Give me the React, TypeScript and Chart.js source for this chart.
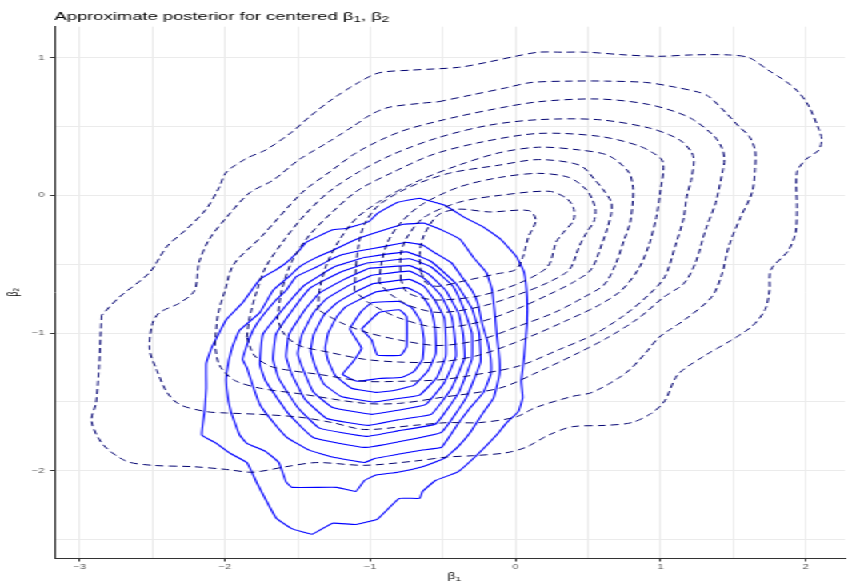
import React, { useEffect, useRef } from "react";
import { Chart, registerables } from "chart.js";

Chart.register(...registerables);

type Pt = [number, number];

// Panel limits (β1 across, β2 up) and gridline positions
const xLimits: Pt = [-3.175, 2.27];
const yLimits: Pt = [-2.633, 1.225];
const xGridValues = [-3, -2.5, -2, -1.5, -1, -0.5, 0, 0.5, 1, 1.5, 2];
const yGridValues = [-2.5, -2, -1.5, -1, -0.5, 0, 0.5, 1];
const xTickValues = [-3, -2, -1, 0, 1, 2];
const xTickLabels = ["−3", "−2", "−1", "0", "1", "2"];
const yTickValues = [-2, -1, 0, 1];
const yTickLabels = ["−2", "−1", "0", "1"];

// Dashed density contours (outermost first)
const dashedLevel1: Pt[] = [
  [-2.85, -0.87], [-2.87, -1.27], [-2.89, -1.51], [-2.92, -1.64], [-2.84, -1.81], [-2.68, -1.93],
  [-2.5, -1.96], [-2.22, -1.97], [-1.99, -1.99], [-1.81, -2.01], [-1.58, -1.97], [-1.37, -1.94],
  [-1.04, -1.96], [-0.7, -1.93], [-0.47, -1.9], [-0.29, -1.89], [-0.07, -1.87], [0.07, -1.83],
  [0.23, -1.74], [0.39, -1.68], [0.62, -1.67], [0.8, -1.65], [0.94, -1.58], [1.03, -1.49],
  [1.12, -1.3], [1.31, -1.16], [1.49, -1.05], [1.63, -0.95], [1.72, -0.83], [1.75, -0.69],
  [1.76, -0.54], [1.88, -0.4], [1.93, -0.27], [1.94, -0.1], [1.94, 0.17], [2.0, 0.26],
  [2.09, 0.33], [2.11, 0.41], [2.09, 0.48], [2.02, 0.65], [1.95, 0.75], [1.86, 0.83],
  [1.74, 0.91], [1.61, 1.0], [1.47, 1.02], [1.21, 1.02], [0.99, 1.01], [0.76, 1.02],
  [0.49, 1.04], [0.32, 1.04], [0.16, 1.04], [0.0, 1.01], [-0.18, 0.97], [-0.39, 0.93],
  [-0.71, 0.91], [-0.94, 0.89], [-1.08, 0.82], [-1.26, 0.7], [-1.42, 0.57], [-1.54, 0.46],
  [-1.72, 0.33], [-1.85, 0.27], [-1.99, 0.17], [-2.04, 0.06], [-2.13, -0.1], [-2.27, -0.25],
  [-2.4, -0.37], [-2.52, -0.56], [-2.73, -0.74],
];
const dashedLevel2: Pt[] = [
  [-0.53, 0.68], [-0.3, 0.73], [-0.07, 0.78], [0.11, 0.82], [0.39, 0.83], [0.62, 0.83],
  [0.9, 0.82], [1.08, 0.79], [1.26, 0.75], [1.33, 0.72], [1.45, 0.6], [1.54, 0.5],
  [1.61, 0.43], [1.65, 0.33], [1.65, 0.19], [1.63, 0.02], [1.55, -0.16], [1.47, -0.37],
  [1.42, -0.58], [1.35, -0.74], [1.17, -0.9], [0.99, -1.03], [0.9, -1.14], [0.76, -1.29],
  [0.53, -1.43], [0.39, -1.46], [0.14, -1.54], [0.0, -1.61], [-0.25, -1.65], [-0.47, -1.65],
  [-0.7, -1.67], [-1.04, -1.7], [-1.26, -1.65], [-1.49, -1.61], [-1.76, -1.59], [-1.99, -1.58],
  [-2.13, -1.57], [-2.31, -1.52], [-2.4, -1.43], [-2.47, -1.27], [-2.52, -1.12], [-2.5, -0.93],
  [-2.45, -0.85], [-2.31, -0.78], [-2.21, -0.69], [-2.18, -0.49], [-2.11, -0.32], [-1.99, -0.16],
  [-1.83, 0.02], [-1.67, 0.11], [-1.49, 0.26], [-1.3, 0.38], [-1.12, 0.5], [-0.99, 0.59],
  [-0.87, 0.64], [-0.64, 0.67],
];
const dashedLevel3: Pt[] = [
  [-2.07, -1.09], [-2.05, -0.87], [-2.0, -0.69], [-1.94, -0.5], [-1.75, -0.3], [-1.47, 0.02],
  [-1.28, 0.17], [-1.08, 0.32], [-0.8, 0.46], [-0.53, 0.54], [-0.18, 0.62], [0.16, 0.68],
  [0.57, 0.7], [0.92, 0.66], [1.19, 0.57], [1.36, 0.44], [1.42, 0.35], [1.44, 0.26],
  [1.43, 0.19], [1.38, -0.05], [1.31, -0.25], [1.24, -0.49], [1.16, -0.64], [1.02, -0.74],
  [0.85, -0.89], [0.64, -1.03], [0.44, -1.14], [0.16, -1.28], [-0.11, -1.4], [-0.53, -1.47],
  [-0.8, -1.51], [-1.04, -1.51], [-1.49, -1.44], [-1.76, -1.4], [-1.94, -1.34], [-2.04, -1.23],
];
const dashedLevel4: Pt[] = [
  [-1.85, -1.03], [-1.83, -0.88], [-1.78, -0.69], [-1.72, -0.52], [-1.59, -0.32], [-1.45, -0.14],
  [-1.28, 0.03], [-1.08, 0.17], [-0.84, 0.3], [-0.53, 0.42], [-0.18, 0.51], [0.16, 0.55],
  [0.57, 0.55], [0.92, 0.49], [1.12, 0.41], [1.21, 0.32], [1.23, 0.25], [1.21, 0.11],
  [1.18, -0.01], [1.16, -0.16], [1.1, -0.37], [1.03, -0.59], [0.92, -0.72], [0.75, -0.87],
  [0.54, -1.01], [0.3, -1.12], [0.02, -1.24], [-0.32, -1.31], [-0.53, -1.34], [-0.8, -1.35],
  [-1.04, -1.35], [-1.35, -1.3], [-1.56, -1.27], [-1.69, -1.24], [-1.8, -1.16],
];
const dashedLevel5: Pt[] = [
  [-1.64, -0.9], [-1.61, -0.69], [-1.54, -0.48], [-1.42, -0.29], [-1.26, -0.12], [-1.08, 0.04],
  [-0.84, 0.17], [-0.56, 0.3], [-0.22, 0.39], [0.16, 0.45], [0.57, 0.43], [0.85, 0.36],
  [1.0, 0.27], [1.02, 0.2], [1.0, 0.04], [0.97, -0.16], [0.92, -0.36], [0.85, -0.53],
  [0.73, -0.69], [0.57, -0.8], [0.37, -0.9], [0.09, -1.03], [-0.25, -1.16], [-0.53, -1.21],
  [-0.8, -1.21], [-1.04, -1.19], [-1.28, -1.14], [-1.49, -1.09], [-1.59, -1.01],
];
const dashedLevel6: Pt[] = [
  [-1.36, -0.83], [-1.35, -0.69], [-1.3, -0.5], [-1.21, -0.32], [-1.09, -0.16], [-0.9, -0.02],
  [-0.66, 0.11], [-0.39, 0.22], [-0.11, 0.31], [0.16, 0.35], [0.44, 0.33], [0.64, 0.29],
  [0.78, 0.17], [0.81, 0.06], [0.81, -0.03], [0.79, -0.2], [0.75, -0.32], [0.69, -0.5],
  [0.61, -0.65], [0.47, -0.74], [0.27, -0.85], [0.02, -0.95], [-0.25, -1.05], [-0.53, -1.09],
  [-0.8, -1.05], [-1.04, -0.99], [-1.21, -0.92],
];
const dashedLevel7: Pt[] = [
  [-1.11, -0.69], [-1.1, -0.54], [-1.08, -0.36], [-1.04, -0.21], [-0.94, -0.07], [-0.73, 0.06],
  [-0.46, 0.16], [-0.11, 0.22], [0.16, 0.26], [0.44, 0.22], [0.55, 0.11], [0.62, 0.02],
  [0.66, -0.05], [0.66, -0.13], [0.63, -0.25], [0.6, -0.34], [0.52, -0.54], [0.4, -0.63],
  [0.23, -0.72], [0.02, -0.82], [-0.25, -0.92], [-0.53, -0.96], [-0.8, -0.89], [-1.01, -0.78],
];
const dashedLevel8: Pt[] = [
  [-0.94, -0.63], [-0.92, -0.48], [-0.88, -0.34], [-0.8, -0.21], [-0.65, -0.07], [-0.39, 0.06],
  [-0.11, 0.13], [0.16, 0.16], [0.37, 0.13], [0.49, 0.04], [0.53, -0.03], [0.55, -0.1],
  [0.54, -0.19], [0.49, -0.27], [0.44, -0.37], [0.37, -0.54], [0.23, -0.63], [0.02, -0.72],
  [-0.25, -0.81], [-0.53, -0.85], [-0.73, -0.8], [-0.87, -0.71],
];
const dashedLevel9: Pt[] = [
  [-0.79, -0.61], [-0.79, -0.43], [-0.75, -0.31], [-0.63, -0.16], [-0.39, -0.05], [-0.11, 0.0],
  [0.23, 0.03], [0.35, -0.02], [0.4, -0.09], [0.4, -0.18], [0.33, -0.27], [0.28, -0.34],
  [0.22, -0.52], [0.02, -0.64], [-0.25, -0.73], [-0.53, -0.76], [-0.66, -0.74], [-0.75, -0.7],
];
const dashedLevel10: Pt[] = [
  [-0.65, -0.56], [-0.66, -0.43], [-0.63, -0.29], [-0.53, -0.14], [-0.39, -0.1], [-0.18, -0.12],
  [0.09, -0.11], [0.14, -0.18], [0.09, -0.3], [0.05, -0.45], [0.0, -0.54], [-0.13, -0.57],
  [-0.35, -0.62], [-0.53, -0.66], [-0.61, -0.64],
];

// Solid density contours (outermost first)
const solidLevel1: Pt[] = [
  [-0.66, -0.02], [-0.49, -0.07], [-0.35, -0.16], [-0.22, -0.23], [-0.1, -0.32], [0.01, -0.45],
  [0.06, -0.56], [0.08, -0.74], [0.08, -0.93], [0.06, -1.17], [0.04, -1.35], [0.05, -1.47],
  [0.02, -1.57], [-0.06, -1.65], [-0.13, -1.74], [-0.27, -1.89], [-0.4, -2.01], [-0.55, -2.07],
  [-0.64, -2.15], [-0.66, -2.2], [-0.8, -2.2], [-0.95, -2.35], [-1.1, -2.39], [-1.26, -2.38],
  [-1.4, -2.46], [-1.54, -2.42], [-1.65, -2.34], [-1.78, -2.09], [-1.85, -1.94], [-1.97, -1.87],
  [-2.06, -1.8], [-2.16, -1.74], [-2.14, -1.56], [-2.13, -1.4], [-2.13, -1.22], [-2.09, -1.1],
  [-1.99, -0.9], [-1.88, -0.78], [-1.76, -0.61], [-1.65, -0.54], [-1.58, -0.49], [-1.49, -0.4],
  [-1.44, -0.34], [-1.26, -0.25], [-1.17, -0.24], [-1.01, -0.19], [-0.95, -0.13], [-0.81, -0.05],
];
const solidLevel2: Pt[] = [
  [-0.63, -0.2], [-0.51, -0.25], [-0.38, -0.32], [-0.29, -0.45], [-0.2, -0.56], [-0.16, -0.69],
  [-0.14, -0.88], [-0.13, -1.0], [-0.11, -1.19], [-0.11, -1.3], [-0.15, -1.47], [-0.23, -1.59],
  [-0.31, -1.72], [-0.4, -1.83], [-0.49, -1.91], [-0.64, -1.97], [-0.81, -2.01], [-0.96, -2.03],
  [-1.04, -2.07], [-1.1, -2.15], [-1.23, -2.12], [-1.54, -2.12], [-1.58, -2.08], [-1.63, -1.94],
  [-1.72, -1.86], [-1.85, -1.8], [-1.9, -1.74], [-1.96, -1.57], [-1.99, -1.4], [-1.99, -1.29],
  [-1.95, -1.1], [-1.9, -0.98], [-1.76, -0.85], [-1.67, -0.69], [-1.56, -0.59], [-1.49, -0.52],
  [-1.37, -0.45], [-1.26, -0.4], [-1.1, -0.32], [-0.9, -0.25], [-0.77, -0.21],
];
const solidLevel3: Pt[] = [
  [-0.75, -0.34], [-0.64, -0.36], [-0.55, -0.42], [-0.44, -0.49], [-0.37, -0.59], [-0.3, -0.69],
  [-0.26, -0.78], [-0.23, -0.93], [-0.19, -1.07], [-0.17, -1.19], [-0.17, -1.3], [-0.22, -1.43],
  [-0.31, -1.54], [-0.39, -1.65], [-0.51, -1.83], [-0.65, -1.85], [-0.81, -1.88], [-0.97, -1.91],
  [-1.04, -1.94], [-1.26, -1.9], [-1.42, -1.85], [-1.57, -1.76], [-1.65, -1.67], [-1.76, -1.52],
  [-1.81, -1.38], [-1.85, -1.25], [-1.88, -1.19], [-1.83, -1.03], [-1.78, -0.93], [-1.65, -0.76],
  [-1.58, -0.69], [-1.51, -0.59], [-1.37, -0.52], [-1.28, -0.47], [-1.19, -0.43], [-1.06, -0.4],
  [-0.9, -0.37],
];
const solidLevel4: Pt[] = [
  [-1.04, -0.45], [-0.75, -0.41], [-0.58, -0.48], [-0.41, -0.64], [-0.3, -0.82], [-0.25, -1.0],
  [-0.24, -1.21], [-0.34, -1.47], [-0.51, -1.72], [-0.81, -1.79], [-1.04, -1.83], [-1.39, -1.76],
  [-1.56, -1.59], [-1.72, -1.35], [-1.76, -1.23], [-1.74, -1.01], [-1.58, -0.8], [-1.45, -0.65],
  [-1.25, -0.52],
];
const solidLevel5: Pt[] = [
  [-1.02, -0.49], [-0.73, -0.46], [-0.58, -0.52], [-0.43, -0.66], [-0.35, -0.84], [-0.3, -1.0],
  [-0.3, -1.19], [-0.39, -1.43], [-0.55, -1.66], [-0.81, -1.71], [-1.03, -1.75], [-1.35, -1.69],
  [-1.5, -1.54], [-1.63, -1.33], [-1.67, -1.19], [-1.65, -1.01], [-1.52, -0.81], [-1.41, -0.67],
  [-1.21, -0.56],
];
const solidLevel6: Pt[] = [
  [-1.01, -0.53], [-0.73, -0.51], [-0.6, -0.57], [-0.48, -0.69], [-0.39, -0.86], [-0.36, -1.01],
  [-0.35, -1.18], [-0.44, -1.4], [-0.58, -1.59], [-0.81, -1.63], [-1.01, -1.67], [-1.3, -1.62],
  [-1.45, -1.48], [-1.54, -1.3], [-1.58, -1.17], [-1.56, -1.01], [-1.45, -0.83], [-1.35, -0.71],
  [-1.18, -0.61],
];
const solidLevel7: Pt[] = [
  [-0.99, -0.58], [-0.73, -0.55], [-0.62, -0.61], [-0.51, -0.73], [-0.44, -0.88], [-0.42, -1.01],
  [-0.41, -1.17], [-0.49, -1.36], [-0.62, -1.52], [-0.81, -1.56], [-0.99, -1.59], [-1.26, -1.54],
  [-1.39, -1.43], [-1.46, -1.27], [-1.5, -1.15], [-1.47, -1.01], [-1.39, -0.85], [-1.3, -0.75],
  [-1.14, -0.65],
];
const solidLevel8: Pt[] = [
  [-0.98, -0.64], [-0.73, -0.61], [-0.63, -0.66], [-0.55, -0.77], [-0.49, -0.89], [-0.48, -1.02],
  [-0.48, -1.17], [-0.54, -1.32], [-0.66, -1.45], [-0.84, -1.48], [-0.98, -1.5], [-1.2, -1.46],
  [-1.32, -1.37], [-1.38, -1.24], [-1.41, -1.13], [-1.39, -1.01], [-1.32, -0.87], [-1.23, -0.78],
  [-1.1, -0.7],
];
const solidLevel9: Pt[] = [
  [-0.96, -0.7], [-0.75, -0.67], [-0.65, -0.72], [-0.59, -0.81], [-0.56, -0.92], [-0.55, -1.03],
  [-0.55, -1.15], [-0.6, -1.27], [-0.7, -1.38], [-0.86, -1.42], [-0.96, -1.43], [-1.13, -1.4],
  [-1.24, -1.31], [-1.29, -1.2], [-1.31, -1.11], [-1.29, -1.0], [-1.23, -0.88], [-1.17, -0.81],
  [-1.06, -0.75],
];
const solidLevel10: Pt[] = [
  [-1.06, -0.84], [-0.99, -0.78], [-0.8, -0.77], [-0.71, -0.82], [-0.65, -0.92], [-0.63, -1.05],
  [-0.64, -1.19], [-0.7, -1.28], [-0.78, -1.32], [-0.94, -1.33], [-1.09, -1.35], [-1.19, -1.3],
  [-1.12, -1.21], [-1.06, -1.11], [-1.14, -0.97],
];
const solidLevel11: Pt[] = [
  [-1.06, -0.97], [-0.94, -0.85], [-0.8, -0.83], [-0.75, -0.88], [-0.75, -1.1], [-0.79, -1.16],
  [-0.95, -1.16], [-0.99, -1.05],
];

const dashedContours = [
  dashedLevel1, dashedLevel2, dashedLevel3, dashedLevel4, dashedLevel5,
  dashedLevel6, dashedLevel7, dashedLevel8, dashedLevel9, dashedLevel10,
];
const solidContours = [
  solidLevel1, solidLevel2, solidLevel3, solidLevel4, solidLevel5, solidLevel6,
  solidLevel7, solidLevel8, solidLevel9, solidLevel10, solidLevel11,
];

// The figure is laid out on a narrow canvas and widened horizontally
const STRETCH = 1.6;
const CANVAS_W = 530;
const CANVAS_H = 584;
const FONT = '"Liberation Sans", Arial, Helvetica, sans-serif';

type Run = { text: string; sub: boolean };
const titleRuns: Run[] = [
  { text: "Approximate posterior for centered β", sub: false },
  { text: "1", sub: true },
  { text: ", β", sub: false },
  { text: "2", sub: true },
];
const xTitleRuns: Run[] = [{ text: "β", sub: false }, { text: "1", sub: true }];
const yTitleRuns: Run[] = [{ text: "β", sub: false }, { text: "2", sub: true }];

function runsWidth(ctx: CanvasRenderingContext2D, runs: Run[], size: number) {
  let w = 0;
  for (const r of runs) {
    ctx.font = `${r.sub ? size * 0.72 : size}px ${FONT}`;
    w += ctx.measureText(r.text).width;
  }
  return w;
}

function drawRuns(ctx: CanvasRenderingContext2D, runs: Run[], x: number, y: number, size: number) {
  let cx = x;
  for (const r of runs) {
    const s = r.sub ? size * 0.72 : size;
    ctx.font = `${s}px ${FONT}`;
    ctx.fillText(r.text, cx, r.sub ? y + size * 0.22 : y);
    cx += ctx.measureText(r.text).width;
  }
}

const textPlugin = {
  id: "plotText",
  afterDraw(chart: any) {
    const { ctx, chartArea } = chart;
    ctx.save();
    ctx.fillStyle = "#000000";
    ctx.textAlign = "left";
    ctx.textBaseline = "alphabetic";
    drawRuns(ctx, titleRuns, chartArea.left, 19.5, 11.5);
    const xw = runsWidth(ctx, xTitleRuns, 8.5);
    drawRuns(ctx, xTitleRuns, 284 - xw / 2, 579, 8.5);
    ctx.translate(10.5, (chartArea.top + chartArea.bottom) / 2);
    ctx.rotate(-Math.PI / 2);
    const yw = runsWidth(ctx, yTitleRuns, 8.5);
    drawRuns(ctx, yTitleRuns, -yw / 2, 0, 8.5);
    ctx.restore();
  },
};

const toLoop = (pts: Pt[]) => [...pts, pts[0]].map(([x, y]) => ({ x, y }));

const labelFor = (values: number[], labels: string[]) => (v: number) => {
  const i = values.indexOf(v);
  return i >= 0 ? labels[i] : "";
};

export default function App() {
  const canvasRef = useRef<HTMLCanvasElement | null>(null);

  useEffect(() => {
    if (!canvasRef.current) return;
    const tickColor = (values: number[]) => (c: any) =>
      c.tick && values.includes(c.tick.value) ? "#333333" : "rgba(0,0,0,0)";

    const chart = new Chart(canvasRef.current, {
      type: "scatter",
      data: {
        datasets: [
          ...dashedContours.map((pts) => ({
            data: toLoop(pts),
            showLine: true,
            borderColor: "#000070",
            borderWidth: 1,
            borderDash: [5, 3.2],
            pointRadius: 0,
            tension: 0.3,
            fill: false,
          })),
          ...solidContours.map((pts) => ({
            data: toLoop(pts),
            showLine: true,
            borderColor: "#0000ff",
            borderWidth: 1.1,
            pointRadius: 0,
            tension: 0.1,
            fill: false,
          })),
        ],
      },
      options: {
        animation: false,
        responsive: false,
        devicePixelRatio: 1,
        layout: { padding: { top: 26.7, right: 1.9, bottom: 0, left: 0 } },
        plugins: { legend: { display: false }, tooltip: { enabled: false }, title: { display: false } },
        events: [],
        scales: {
          x: {
            type: "linear",
            min: xLimits[0],
            max: xLimits[1],
            afterBuildTicks: (axis: any) => {
              axis.ticks = xGridValues.map((value) => ({ value }));
            },
            afterFit: (axis: any) => {
              axis.height = 26;
            },
            ticks: {
              autoSkip: false,
              maxRotation: 0,
              padding: 2,
              color: "#4d4d4d",
              font: { family: FONT, size: 6.8 },
              callback: (v: any) => labelFor(xTickValues, xTickLabels)(Number(v)),
            },
            grid: {
              color: "#ebebeb",
              lineWidth: 1,
              drawTicks: true,
              tickLength: 3.5,
              tickColor: tickColor(xTickValues),
            },
            border: { display: true, color: "#333333", width: 1 },
          },
          y: {
            type: "linear",
            min: yLimits[0],
            max: yLimits[1],
            afterBuildTicks: (axis: any) => {
              axis.ticks = yGridValues.map((value) => ({ value }));
            },
            afterFit: (axis: any) => {
              axis.width = 34.06;
            },
            ticks: {
              autoSkip: false,
              padding: 3.4,
              color: "#4d4d4d",
              font: { family: FONT, size: 6.8 },
              callback: (v: any) => labelFor(yTickValues, yTickLabels)(Number(v)),
            },
            grid: {
              color: "#ebebeb",
              lineWidth: 1,
              drawTicks: true,
              tickLength: 2.8,
              tickColor: tickColor(yTickValues),
            },
            border: { display: true, color: "#333333", width: 1 },
          },
        },
      },
      plugins: [textPlugin],
    } as any);

    return () => chart.destroy();
  }, []);

  return (
    <div
      style={{
        position: "fixed",
        left: 0,
        top: 0,
        width: CANVAS_W,
        height: CANVAS_H,
        transform: `scaleX(${STRETCH})`,
        transformOrigin: "0 0",
        background: "#ffffff",
      }}
    >
      <canvas ref={canvasRef} width={CANVAS_W} height={CANVAS_H} />
    </div>
  );
}
